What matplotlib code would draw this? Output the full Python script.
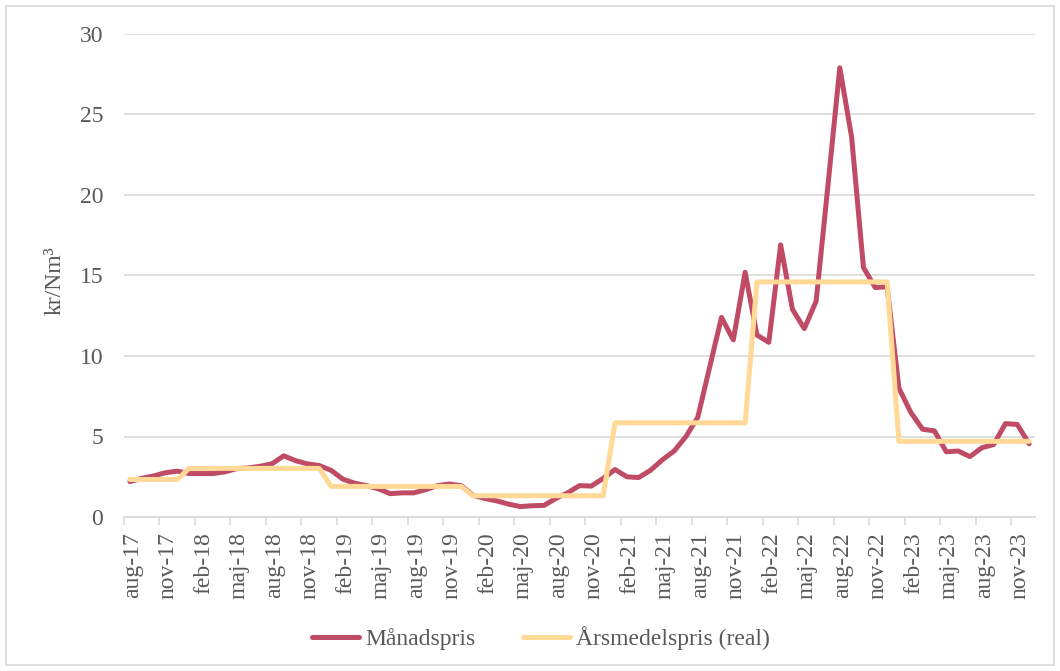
import matplotlib.pyplot as plt
import matplotlib.patches as mpatches
import matplotlib.transforms as mtransforms
import numpy as np

# monthly price, aug-17 .. dec-23 (kr/Nm3)
monthly_price = [
    2.2, 2.4, 2.55, 2.75, 2.85,                                      # 2017 aug-dec
    2.7, 2.7, 2.7, 2.8, 3.0, 3.05, 3.15, 3.3, 3.8, 3.5, 3.3, 3.2,     # 2018
    2.9, 2.35, 2.1, 1.95, 1.75, 1.45, 1.5, 1.5, 1.7, 1.95, 2.05, 1.95,  # 2019
    1.35, 1.15, 1.0, 0.8, 0.65, 0.7, 0.72, 1.15, 1.5, 1.95, 1.92, 2.4,  # 2020
    2.95, 2.5, 2.45, 2.9, 3.55, 4.1, 5.0, 6.2, 9.3, 12.4, 11.0, 15.2,  # 2021
    11.3, 10.85, 16.9, 12.9, 11.7, 13.4, 20.6, 27.9, 23.6, 15.5, 14.25, 14.3,  # 2022
    8.0, 6.5, 5.45, 5.35, 4.05, 4.1, 3.75, 4.3, 4.5, 5.8, 5.75, 4.55,  # 2023
]

# yearly mean price (real), one value per year
years = [2017, 2018, 2019, 2020, 2021, 2022, 2023]
months_in_year = [5, 12, 12, 12, 12, 12, 12]
yearly_mean = [2.33, 3.02, 1.9, 1.32, 5.85, 14.6, 4.7]

month_names = ['jan', 'feb', 'mar', 'apr', 'maj', 'jun',
               'jul', 'aug', 'sep', 'okt', 'nov', 'dec']

labels = []
for y, n in zip(years, months_in_year):
    for m in range(12 - n, 12):
        labels.append('{0}-{1}'.format(month_names[m], str(y)[2:]))

yearly_line = np.repeat(yearly_mean, months_in_year)
x = np.arange(len(monthly_price))

text_col = '#595959'
grid_col = '#D9D9D9'
red = '#C04B65'
yellow = '#FFD995'
fs = 17

plt.rcParams['font.family'] = ['Liberation Serif', 'DejaVu Serif']
plt.rcParams['font.size'] = fs

fig = plt.figure(figsize=(10.6, 6.71), dpi=100)
ax = fig.add_axes([124 / 1060, 1 - 517 / 671, (1035 - 124) / 1060, (517 - 34) / 671])

fig.patches.append(mpatches.Rectangle((6 / 1060, 6 / 671), 1048 / 1060, 659 / 671,
                                      transform=fig.transFigure, fill=False,
                                      edgecolor=grid_col, linewidth=1.2))

ax.plot(x, monthly_price, color=red, linewidth=3.6, solid_joinstyle='round',
        solid_capstyle='round', label='Månadspris', zorder=3)
ax.plot(x, yearly_line, color=yellow, linewidth=3.6, solid_joinstyle='round',
        solid_capstyle='round', label='Årsmedelspris (real)', zorder=4)

ax.set_xlim(-0.5, len(x) - 0.5)
ax.set_ylim(0, 30)
ax.set_yticks(range(0, 31, 5))
ax.yaxis.grid(True, color=grid_col, linewidth=1.2)
ax.set_axisbelow(True)
ax.tick_params(axis='y', length=0, pad=15, colors=text_col, labelsize=fs)

ax.set_xticks(np.arange(-0.5, len(x), 3), minor=True)
ax.set_xticks(x[::3])
ax.set_xticklabels(labels[::3], rotation=90, color=text_col, fontsize=fs)
ax.tick_params(axis='x', which='major', length=0, pad=11)
ax.tick_params(axis='x', which='minor', length=6, width=1.2, color=grid_col)

# nudge rotated labels a few pixels right, like the original
shift = mtransforms.ScaledTranslation(3 / 100, 0, fig.dpi_scale_trans)
for lab in ax.get_xticklabels():
    lab.set_transform(lab.get_transform() + shift)

for s in ['top', 'right', 'left']:
    ax.spines[s].set_visible(False)
ax.spines['bottom'].set_color(grid_col)
ax.spines['bottom'].set_linewidth(1.2)

ax.set_ylabel('kr/Nm³', color=text_col, fontsize=fs)
ax.yaxis.set_label_coords((66 - 124) / 911, 0.49)

leg = fig.legend(loc='center', bbox_to_anchor=(541 / 1060, 1 - 638 / 671), ncol=2,
                 frameon=False, handlelength=2.0, handletextpad=0.25,
                 columnspacing=2.0, fontsize=fs)
for t in leg.get_texts():
    t.set_color(text_col)

fig.savefig('out.png', dpi=100)
